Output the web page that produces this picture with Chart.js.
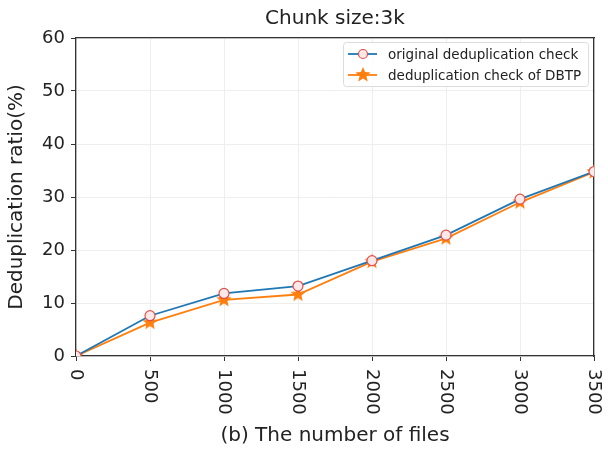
<!DOCTYPE html>
<html>
<head>
<meta charset="utf-8">
<script src="https://cdn.jsdelivr.net/npm/chart.js@4/dist/chart.umd.min.js"></script>
<style>
  html, body { margin: 0; padding: 0; background: #fff; }
  #wrap { width: 608px; height: 449px; }
</style>
</head>
<body>
<div id="wrap"><canvas id="chart"></canvas></div>
<script>
// --- data ---
const fileCounts = [0, 500, 1000, 1500, 2000, 2500, 3000, 3500];
const originalCheck = [0, 7.6, 11.8, 13.2, 18.0, 22.8, 29.6, 34.8];
const dbtpCheck = [0, 6.3, 10.6, 11.6, 17.8, 22.2, 29.0, 34.7];
const seriesNames = ['original deduplication check', 'deduplication check of DBTP'];
const chartTitle = 'Chunk size:3k';

const FONT = '"DejaVu Sans", sans-serif';
const BLUE = '#1f77b4';
const ORANGE = '#ff7f0e';
const CIRCLE_FILL = '#fde8e8';
const CIRCLE_EDGE = '#e0504a';

// filled five point star used as point style
function makeStar(r) {
    const c = document.createElement('canvas');
    c.width = c.height = r * 2 + 2;
    const g = c.getContext('2d');
    g.translate(r + 1, r + 1);
    g.beginPath();
    for (let i = 0; i < 10; i++) {
        const rad = i % 2 === 0 ? r : r * 0.45;
        const a = -Math.PI / 2 + i * Math.PI / 5;
        g.lineTo(Math.cos(a) * rad, Math.sin(a) * rad);
    }
    g.closePath();
    g.fillStyle = ORANGE;
    g.fill();
    return c;
}
const star = makeStar(8);

// title centred over the plot area, like matplotlib does
const axesTitle = {
    id: 'axesTitle',
    afterDraw(chart) {
        const ctx = chart.ctx;
        const area = chart.chartArea;
        ctx.save();
        ctx.font = '20px ' + FONT;
        ctx.fillStyle = '#222';
        ctx.textAlign = 'center';
        ctx.textBaseline = 'middle';
        ctx.fillText(chartTitle, (area.left + area.right) / 2, 19);
        ctx.restore();
    }
};

// x tick labels read top-to-bottom, drawn by hand at the scale's positions
const rotatedTicks = {
    id: 'rotatedTicks',
    afterDraw(chart) {
        const ctx = chart.ctx;
        const xs = chart.scales.x;
        ctx.save();
        ctx.font = '18px ' + FONT;
        ctx.fillStyle = '#222';
        ctx.textBaseline = 'middle';
        ctx.textAlign = 'left';
        xs.ticks.forEach(t => {
            const px = xs.getPixelForValue(t.value);
            ctx.save();
            ctx.translate(px, xs.top + 13);
            ctx.rotate(Math.PI / 2);
            ctx.fillText(String(t.value), 0, 0);
            ctx.restore();
        });
        ctx.restore();
    }
};

// legend box in the upper right of the plot
const boxLegend = {
    id: 'boxLegend',
    afterDraw(chart) {
        const ctx = chart.ctx;
        const area = chart.chartArea;
        const x0 = area.right - 251, y0 = area.top + 4, w = 245, h = 44;
        ctx.save();
        ctx.fillStyle = 'rgba(255,255,255,0.85)';
        ctx.strokeStyle = '#dcdcdc';
        ctx.lineWidth = 1;
        ctx.beginPath();
        ctx.roundRect(x0 + 0.5, y0 + 0.5, w, h, 3);
        ctx.fill();
        ctx.stroke();
        ctx.font = '13.5px ' + FONT;
        ctx.textBaseline = 'middle';
        const rows = [
            { y: y0 + 12, color: BLUE, name: seriesNames[0], marker: 'circle' },
            { y: y0 + 33, color: ORANGE, name: seriesNames[1], marker: 'star' }
        ];
        rows.forEach(r => {
            ctx.strokeStyle = r.color;
            ctx.lineWidth = 1.8;
            ctx.beginPath();
            ctx.moveTo(x0 + 5, r.y);
            ctx.lineTo(x0 + 34, r.y);
            ctx.stroke();
            if (r.marker === 'circle') {
                ctx.beginPath();
                ctx.arc(x0 + 20, r.y, 4.5, 0, Math.PI * 2);
                ctx.fillStyle = CIRCLE_FILL;
                ctx.fill();
                ctx.strokeStyle = CIRCLE_EDGE;
                ctx.lineWidth = 1.2;
                ctx.stroke();
            } else {
                ctx.drawImage(star, x0 + 20 - 9, r.y - 9);
            }
            ctx.fillStyle = '#222';
            ctx.fillText(r.name, x0 + 45, r.y + 1);
        });
        ctx.restore();
    }
};

new Chart(document.getElementById('chart'), {
    type: 'line',
    data: {
        datasets: [
            {
                label: seriesNames[0],
                data: fileCounts.map((f, i) => ({ x: f, y: originalCheck[i] })),
                borderColor: BLUE,
                borderWidth: 1.8,
                pointStyle: 'circle',
                pointRadius: 5,
                pointBackgroundColor: CIRCLE_FILL,
                pointBorderColor: CIRCLE_EDGE,
                pointBorderWidth: 1.2,
                tension: 0
            },
            {
                label: seriesNames[1],
                data: fileCounts.map((f, i) => ({ x: f, y: dbtpCheck[i] })),
                borderColor: ORANGE,
                borderWidth: 1.8,
                pointStyle: star,
                pointRadius: 8,
                tension: 0
            }
        ]
    },
    options: {
        responsive: true,
        maintainAspectRatio: false,
        animation: false,
        layout: { padding: { left: 0, right: 14, top: 38, bottom: 0 } },
        plugins: {
            legend: { display: false },
            tooltip: { enabled: false },
            title: { display: false }
        },
        scales: {
            x: {
                type: 'linear',
                min: 0,
                max: 3500,
                afterFit: s => { s.height = 93; },
                ticks: { stepSize: 500, display: false },
                grid: { color: '#eeeeee', tickColor: '#333', tickLength: 5 },
                border: { color: '#333', width: 1.3 },
                title: {
                    display: true,
                    text: '(b) The number of files',
                    color: '#222',
                    font: { family: FONT, size: 20 },
                    padding: { top: 0, bottom: 1 }
                }
            },
            y: {
                min: 0,
                max: 60,
                afterFit: s => { s.width = 76; },
                ticks: {
                    stepSize: 10,
                    color: '#222',
                    font: { family: FONT, size: 18 },
                    padding: 6
                },
                grid: { color: '#eeeeee', tickColor: '#333', tickLength: 5 },
                border: { color: '#333', width: 1.3 },
                title: {
                    display: true,
                    text: 'Deduplication ratio(%)',
                    color: '#222',
                    font: { family: FONT, size: 20 },
                    padding: { top: 5, bottom: 0 }
                }
            },
            y2: {
                position: 'right',
                min: 0,
                max: 60,
                afterFit: s => { s.width = 0; },
                ticks: { display: false },
                grid: { display: false },
                border: { color: '#333', width: 1.3 }
            },
            x2: {
                position: 'top',
                type: 'linear',
                min: 0,
                max: 3500,
                afterFit: s => { s.height = 0; },
                ticks: { display: false },
                grid: { display: false },
                border: { color: '#333', width: 1.3 }
            }
        }
    },
    plugins: [axesTitle, rotatedTicks, boxLegend]
});
</script>
</body>
</html>
